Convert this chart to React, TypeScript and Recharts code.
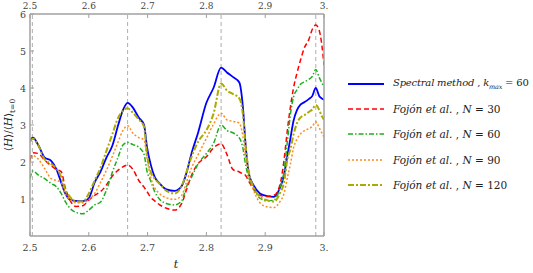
import { LineChart, Line, XAxis, YAxis, ReferenceLine } from 'recharts';

const times = [
  2.5, 2.505, 2.514, 2.525, 2.536, 2.545, 2.553, 2.56, 2.568, 2.578, 2.59, 2.6, 2.61, 2.62, 2.63,
  2.64, 2.65, 2.658, 2.666, 2.675, 2.685, 2.694, 2.699, 2.705, 2.712, 2.72, 2.732, 2.746, 2.758,
  2.766, 2.775, 2.786, 2.8, 2.812, 2.825, 2.835, 2.845, 2.856, 2.862, 2.867, 2.872, 2.88, 2.891,
  2.903, 2.915, 2.925, 2.932, 2.938, 2.943, 2.948, 2.954, 2.96, 2.967, 2.974, 2.98, 2.986, 2.992,
  2.996, 3.0,
];

const spectral = [
  2.58, 2.66, 2.46, 2.12, 2.03, 1.8, 1.45, 1.15, 0.98, 0.95, 0.94, 1.02, 1.45, 1.74, 2.12,
  2.44, 3.0, 3.4, 3.6, 3.47, 3.2, 3.0, 2.4, 1.95, 1.6, 1.43, 1.26, 1.22, 1.35,
  1.7, 2.25, 2.8, 3.6, 4.0, 4.55, 4.42, 4.3, 4.15, 3.5, 2.4, 1.7, 1.38, 1.15,
  1.08, 1.06, 1.3, 1.65, 2.2, 2.65, 3.1, 3.4, 3.55, 3.62, 3.7, 3.78, 4.0, 3.78,
  3.72, 3.68,
];

const fojon30 = [
  2.05, 2.25, 2.23, 2.05, 1.9, 1.8, 1.74, 1.3, 0.97, 0.8, 0.82, 0.97, 1.1, 1.2, 1.38,
  1.62, 1.78, 1.87, 1.92, 1.8, 1.5, 1.32, 1.2, 1.05, 0.95, 0.85, 0.75, 0.7, 0.88,
  1.24, 1.65, 1.96, 2.14, 2.38, 2.49, 2.2, 1.8, 1.73, 1.68, 1.63, 1.48, 1.27, 1.1,
  1.07, 1.1, 1.38, 2.05, 2.9, 3.5, 3.99, 4.4, 4.75, 5.1, 5.3, 5.58, 5.7, 5.55,
  5.2, 4.62,
];

const fojon60 = [
  1.56, 1.76, 1.65, 1.55, 1.42, 1.33, 1.15, 0.93, 0.75, 0.64, 0.6, 0.7, 0.84, 0.92, 1.24,
  1.72, 2.14, 2.46, 2.53, 2.47, 2.4, 2.2, 1.75, 1.5, 1.2, 1.0, 0.88, 0.84, 0.95,
  1.33, 1.6, 1.95, 2.23, 2.5, 3.0, 2.85, 2.79, 2.65, 2.38, 1.9, 1.58, 1.33, 1.02,
  0.95, 0.97, 1.29, 1.74, 2.6, 3.3, 3.75, 3.95, 4.1, 4.17, 4.23, 4.31, 4.5, 4.28,
  4.15, 4.04,
];

const fojon90 = [
  2.0, 2.17, 2.08, 1.82, 1.55, 1.5, 1.45, 1.13, 0.99, 0.9, 0.9, 0.98, 1.15, 1.45, 1.78,
  2.15, 2.55, 2.85, 2.98, 2.78, 2.66, 2.6, 2.1, 1.6, 1.3, 1.15, 1.03, 0.99, 1.1,
  1.45, 1.85, 2.2, 2.64, 3.02, 3.32, 3.14, 3.1, 3.05, 2.7, 2.1, 1.65, 1.25, 0.9,
  0.79, 0.77, 0.93, 1.15, 1.6, 1.95, 2.37, 2.62, 2.76, 2.85, 2.9, 2.96, 3.09, 2.92,
  2.8, 2.68,
];

const fojon120 = [
  2.55, 2.63, 2.45, 2.07, 1.95, 1.82, 1.6, 1.25, 1.06, 0.93, 0.93, 1.15, 1.5, 1.85, 2.3,
  2.75, 3.2, 3.38, 3.45, 3.33, 3.15, 2.95, 2.2, 1.75, 1.55, 1.42, 1.22, 1.15, 1.35,
  1.72, 2.15, 2.55, 2.86, 3.3, 4.12, 3.93, 3.84, 3.72, 3.3, 2.4, 1.75, 1.33, 1.06,
  0.97, 0.93, 1.15, 1.45, 2.1, 2.35, 2.73, 3.05, 3.2, 3.27, 3.35, 3.42, 3.54, 3.4,
  3.25, 3.14,
];

const xTicks = [2.5, 2.6, 2.7, 2.8, 2.9, 3.0];
const xTickLabels = ['2.5', '2.6', '2.7', '2.8', '2.9', '3.'];
const yTicks = [1, 2, 3, 4, 5, 6];
const markTimes = [2.504, 2.666, 2.825, 2.986];

const rows = times.map((t, i) => ({
  t,
  spectral: spectral[i],
  n30: fojon30[i],
  n60: fojon60[i],
  n90: fojon90[i],
  n120: fojon120[i],
}));

const FONT = "'DejaVu Serif', serif";
const FRAME = '#a0a0a0';
const TICK_TEXT = '#444';

const xLabel = (v: number) => xTickLabels[xTicks.findIndex(x => Math.abs(x - v) < 1e-6)] ?? String(v);

const txt = { fontFamily: FONT };

const BottomTick = ({ x, y, payload }: any) => (
  <g>
    <line x1={x} x2={x} y1={y} y2={y - 4} stroke={FRAME} />
    <text x={x} y={y + 15} textAnchor="middle" fontSize={9.5} fill={TICK_TEXT} style={txt}>
      {xLabel(payload.value)}
    </text>
  </g>
);

const TopTick = ({ x, y, payload }: any) => (
  <g>
    <line x1={x} x2={x} y1={y} y2={y + 4} stroke={FRAME} />
    <text x={x} y={y - 5.5} textAnchor="middle" fontSize={9} fill={TICK_TEXT} style={txt}>
      {xLabel(payload.value)}
    </text>
  </g>
);

const LeftTick = ({ x, y, payload }: any) => (
  <g>
    <line x1={x} x2={x + 4} y1={y} y2={y} stroke={FRAME} />
    <text x={x - 4} y={y + 3.5} textAnchor="end" fontSize={9.5} fill={TICK_TEXT} style={txt}>
      {payload.value}
    </text>
  </g>
);

const RightTick = ({ x, y, payload }: any) => (
  <g>
    <line x1={x} x2={x - 4} y1={y} y2={y} stroke={FRAME} />
    <text x={x + 4} y={y + 3.5} textAnchor="start" fontSize={9.5} fill={TICK_TEXT} style={txt}>
      {payload.value}
    </text>
  </g>
);

const series = [
  { key: 'spectral', color: '#0000ff', dash: undefined, width: 1.8, name: 'Spectral method', param: 'kmax', val: '60' },
  { key: 'n30', color: '#ff0000', dash: '5 3', width: 1.5, name: 'Fojón et al.', param: 'N', val: '30' },
  { key: 'n60', color: '#1fae1f', dash: '5 2 1.5 2', width: 1.5, name: 'Fojón et al.', param: 'N', val: '60' },
  { key: 'n90', color: '#ff8c1a', dash: '2 2', width: 1.5, name: 'Fojón et al.', param: 'N', val: '90' },
  { key: 'n120', color: '#aaaa00', dash: '6 2 2 2', width: 2, name: 'Fojón et al.', param: 'N', val: '120' },
];

function LegendBox() {
  return (
    <div style={{ position: 'absolute', left: 348, top: 71, fontFamily: FONT, fontSize: 10.5, color: '#222' }}>
      {series.map(s => (
        <div key={s.key} style={{ display: 'flex', alignItems: 'center', height: 25.3, whiteSpace: 'nowrap' }}>
          <svg width={36} height={6} style={{ marginRight: 9 }}>
            <line x1={0} x2={36} y1={3} y2={3} stroke={s.color} strokeWidth={s.width} strokeDasharray={s.dash} />
          </svg>
          {s.param === 'kmax' ? (
            <span style={{ fontSize: 10, letterSpacing: -0.2 }}>
              <i>{s.name}</i> , <i>k</i>
              <sub style={{ fontSize: 6.5 }}><i>max</i></sub> = {s.val}
            </span>
          ) : (
            <span>
              <i>{s.name}</i>&nbsp;,&nbsp;<i>N</i>&nbsp;= {s.val}
            </span>
          )}
        </div>
      ))}
    </div>
  );
}

const YTitle = () => (
  <text x={12} y={125} transform="rotate(-90 12 125)" textAnchor="middle" fontSize={10.5} fill="#222" style={txt}>
    ⟨<tspan fontStyle="italic">H</tspan>⟩/⟨<tspan fontStyle="italic">H</tspan>⟩
    <tspan fontSize={7.5} dy={3}>t=0</tspan>
  </text>
);

export default function App() {
  return (
    <div style={{ position: 'absolute', left: 0, top: 0, width: 533, height: 273, background: '#fff' }}>
      <LineChart width={533} height={273} data={rows} margin={{ top: 4, right: 199, bottom: 17, left: 10 }}>
        <XAxis
          dataKey="t"
          type="number"
          domain={[2.5, 3.0]}
          ticks={xTicks}
          allowDataOverflow
          height={20}
          tickSize={0}
          tickMargin={0}
          tick={<BottomTick />}
          axisLine={{ stroke: FRAME, strokeWidth: 1.5 }}
          tickLine={false}
          label={() => (
            <text x={176} y={268} textAnchor="middle" fontStyle="italic" fontSize={11} fill="#222" style={txt}>t</text>
          )}
        />
        <XAxis
          xAxisId="top"
          orientation="top"
          dataKey="t"
          type="number"
          domain={[2.5, 3.0]}
          ticks={xTicks}
          allowDataOverflow
          height={10}
          tickSize={0}
          tickMargin={0}
          tick={<TopTick />}
          axisLine={{ stroke: FRAME, strokeWidth: 1.5 }}
          tickLine={false}
        />
        <YAxis
          type="number"
          domain={[0, 6]}
          ticks={yTicks}
          width={20}
          tickSize={0}
          tickMargin={0}
          tick={<LeftTick />}
          axisLine={{ stroke: FRAME, strokeWidth: 1.5 }}
          tickLine={false}
          label={() => <YTitle />}
        />
        <YAxis
          yAxisId="right"
          orientation="right"
          type="number"
          domain={[0, 6]}
          ticks={yTicks}
          width={10}
          tickSize={0}
          tickMargin={0}
          tick={<RightTick />}
          axisLine={{ stroke: FRAME, strokeWidth: 1.5 }}
          tickLine={false}
        />
        {markTimes.map(m => (
          <ReferenceLine key={m} x={m} stroke="#999" strokeWidth={0.8} strokeDasharray="4 3" />
        ))}
        {series.map(s => (
          <Line
            key={s.key}
            type="monotone"
            dataKey={s.key}
            stroke={s.color}
            strokeWidth={s.width}
            strokeDasharray={s.dash}
            dot={false}
            isAnimationActive={false}
          />
        ))}
      </LineChart>
      <LegendBox />
    </div>
  );
}
